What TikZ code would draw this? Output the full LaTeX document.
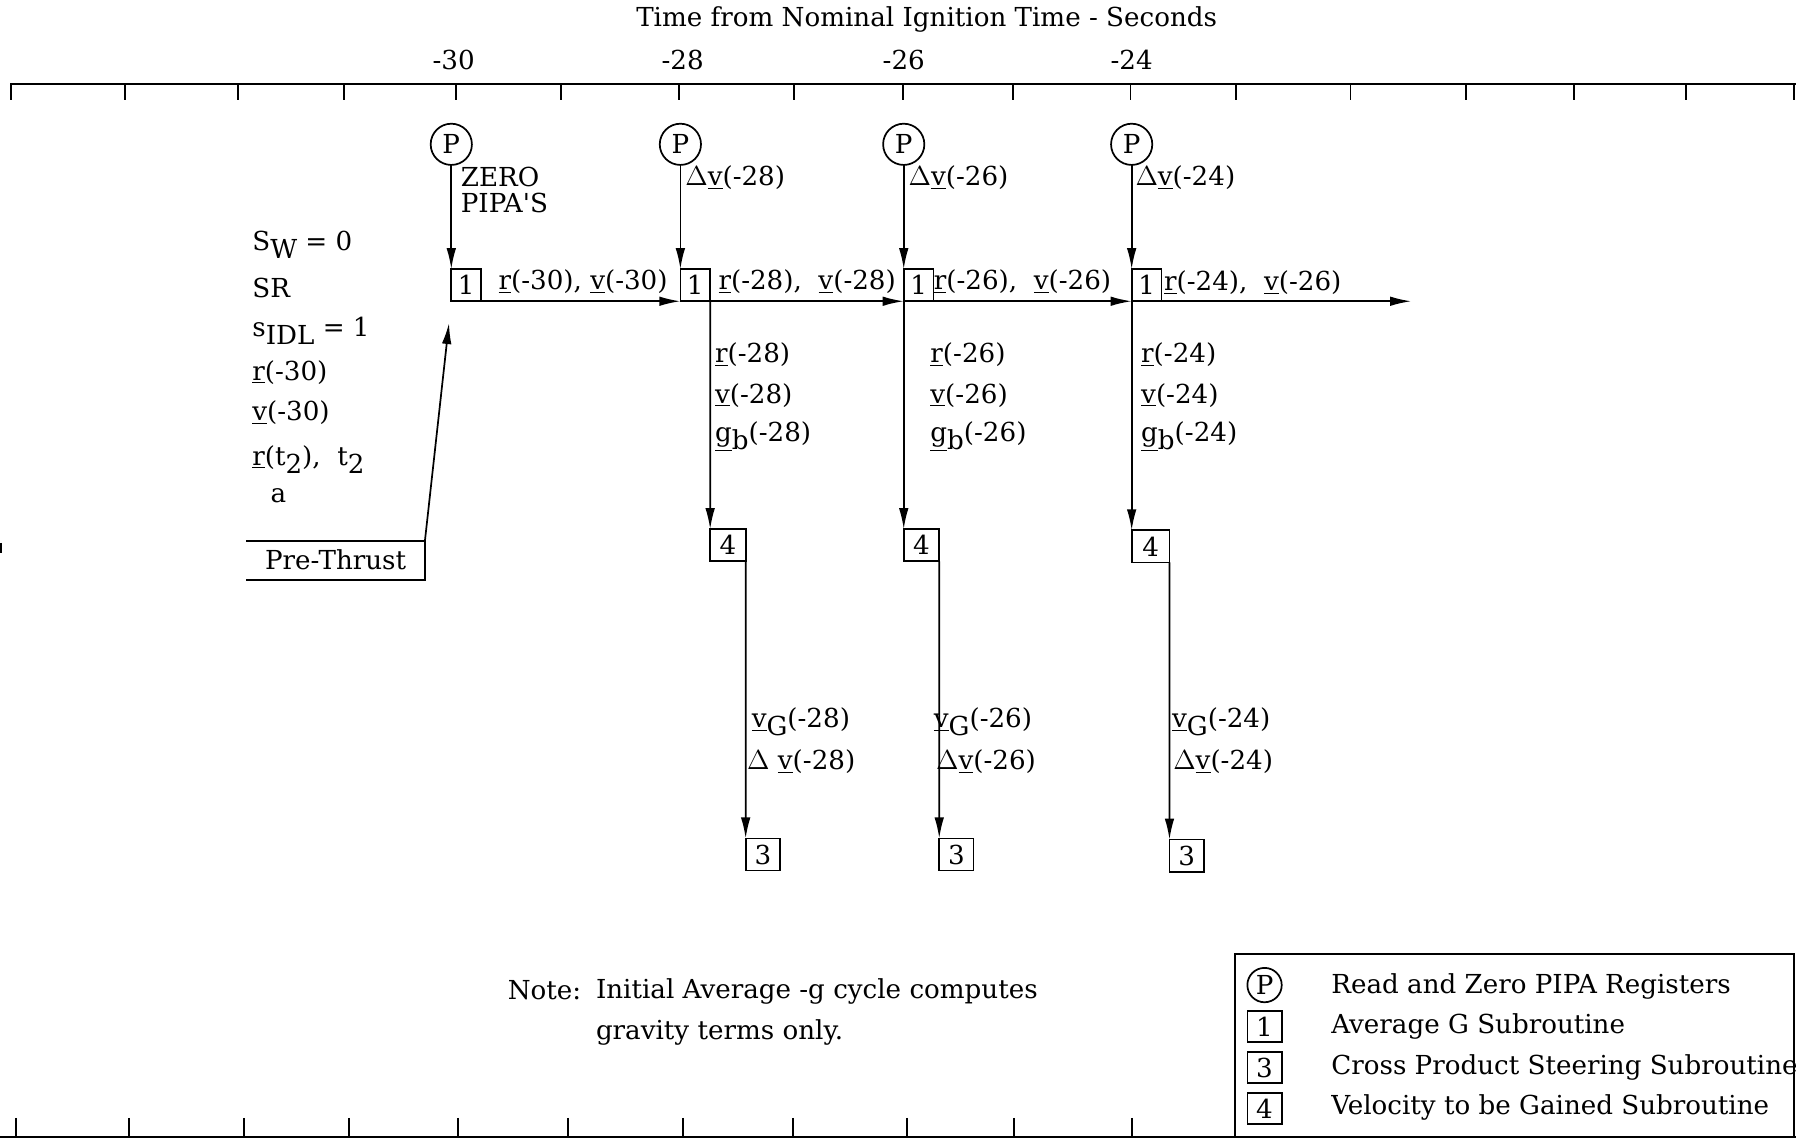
\documentclass[tikz,border=0pt]{standalone}
\usepackage{fontspec}
\setmainfont{DejaVu Serif}
\usepackage{tikz}
\usetikzlibrary{arrows.meta,positioning,calc}

\newcommand{\lo}[1]{\raisebox{-0.6ex}{#1}}
\newcommand{\vu}[1]{\underline{#1}}

\begin{document}
\begin{tikzpicture}[x=0.6pt,y=-0.6pt,
  every node/.style={font=\fontsize{13.7}{21.6}\selectfont},
  txt/.style={anchor=west,inner sep=0pt},
  pipa/.style={draw,circle,line width=0.9pt,minimum size=21.6pt,inner sep=0pt,outer sep=0pt},
  sub/.style={draw,rectangle,line width=0.9pt,minimum width=15.6pt,minimum height=16.8pt,inner sep=0pt,outer sep=0pt},
  flow/.style={line width=0.9pt,-{Latex[length=11pt,width=5pt]}},
  rule/.style={line width=1pt}]
  \useasboundingbox (0,0) rectangle (1568,994);
  \node (title) at (809,17) {Time from Nominal Ignition Time - Seconds}; % 時間軸の見出し
  \draw[rule] (10,87) -- (10,73) -- (1568,73); % 上側の時間軸
  \foreach \t in {109,208,300,398,490,593,693,788,884,987,1079,1179,1280,1374,1472,1566}
    \draw[rule] (\t,73) -- (\t,87); % 1秒ごとの目盛り
  \foreach \x/\s in {396/30,596/28,789/26,988/24}
    \node (lab\s) at (\x,52) {-\s}; % 目盛りの数値

  % 各時刻の P（PIPA読み出し）と 1（平均G）
  \node[pipa] (p30) at (394,126) {P};
  \node[pipa] (p28) at (594,126) {P};
  \node[pipa] (p26) at (789,126) {P};
  \node[pipa] (p24) at (988,126) {P};
  \node[sub,anchor=south west] (a30) at (394,263) {1};
  \node[sub,anchor=south west] (a28) at (594,263) {1};
  \node[sub,anchor=south west] (a26) at (789,263) {1};
  \node[sub,anchor=south west] (a24) at (988,263) {1};
  \coordinate (tend) at (1232,263);
  \draw[flow] (p30.south) -- (a30.north west);
  \draw[flow] (p28.south) -- (a28.north west);
  \draw[flow] (p26.south) -- (a26.north west);
  \draw[flow] (p24.south) -- (a24.north west);
  \draw[flow] (a30.south west) -- (a28.south west); % 時間方向の流れ
  \draw[flow] (a28.south west) -- (a26.south west);
  \draw[flow] (a26.south west) -- (a24.south west);
  \draw[flow] (a24.south west) -- (tend);
  \node[txt,align=left,font=\fontsize{13.7}{13.8}\selectfont] (zero) at (402,166) {ZERO\\PIPA\textquotesingle S};
  \node[txt] (dv28) at (598,155) {$\Delta$\vu{v}(-28)};
  \node[txt] (dv26) at (793,155) {$\Delta$\vu{v}(-26)};
  \node[txt] (dv24) at (991,155) {$\Delta$\vu{v}(-24)};
  \node[txt] (rv30) at (435,246) {\vu{r}(-30), \vu{v}(-30)};
  \node[txt] (rv28) at (627,246) {\vu{r}(-28),\ \ \vu{v}(-28)};
  \node[txt] (rv26) at (815,246) {\vu{r}(-26),\ \ \vu{v}(-26)};
  \node[txt] (rv24) at (1016,247) {\vu{r}(-24),\ \ \vu{v}(-26)};

  % 4（増速すべき速度）と 3（外積ステアリング）
  \node[sub,anchor=north west,minimum width=18.6pt] (g28) at (620,462) {4};
  \node[sub,anchor=north west,minimum width=18.6pt] (g26) at (789,462) {4};
  \node[sub,anchor=north west,minimum width=19.8pt] (g24) at (988,463) {4};
  \node[sub,anchor=north west,minimum width=18pt] (h28) at (651,732) {3};
  \node[sub,anchor=north west,minimum width=18pt] (h26) at (820,732) {3};
  \node[sub,anchor=north west,minimum width=18pt] (h24) at (1021,733) {3};
  \draw[flow] (a28.south east) -- (g28.north west);
  \draw[flow] (a26.south west) -- (g26.north west);
  \draw[flow] (a24.south west) -- (g24.north west);
  \draw[flow] (g28.south east) -- (h28.north west);
  \draw[flow] (g26.south east) -- (h26.north west);
  \draw[flow] (g24.south east) -- (h24.north west);
  \foreach \x/\s in {624/28,812/26,996/24} {
    \node[txt] (r\s) at (\x,310) {\vu{r}(-\s)};
    \node[txt] (v\s) at (\x,345) {\vu{v}(-\s)};
    \node[txt] (gb\s) at (\x,381) {\vu{g}\lo{b}(-\s)};
  }
  \node[txt] (vg28) at (656,630) {\vu{v}\lo{G}(-28)};
  \node[txt] (vg26) at (815,630) {\vu{v}\lo{G}(-26)};
  \node[txt] (vg24) at (1023,630) {\vu{v}\lo{G}(-24)};
  \node[txt] (dg28) at (652,665) {$\Delta$\ \vu{v}(-28)};
  \node[txt] (dg26) at (817,665) {$\Delta$\vu{v}(-26)};
  \node[txt] (dg24) at (1024,665) {$\Delta$\vu{v}(-24)};

  % 推力前の初期値
  \node[txt] (sw) at (220,214) {S\lo{W} = 0};
  \node[txt] (sr) at (220,251) {SR};
  \node[txt] (sidl) at (220,289) {s\lo{IDL} = 1};
  \node[txt] (r30) at (220,325) {\vu{r}(-30)};
  \node[txt] (v30) at (220,360) {\vu{v}(-30)};
  \node[txt] (rt2) at (220,401) {\vu{r}(t\lo{2}),\ \ t\lo{2}};
  \node[txt] (sa) at (236,433) {a};
  \node[minimum width=93.6pt,minimum height=20.4pt,inner sep=0pt,outer sep=0pt] (pre) at (293,489) {Pre-Thrust};
  \draw[rule] (pre.north west) -- (pre.north east) -- (pre.south east) -- (pre.south west);
  \coordinate (tip) at (392,282);
  \draw[flow] (pre.north east) -- (tip);

  % 注記と凡例
  \node[txt] (note) at (443,864) {Note:};
  \node[txt,align=left,anchor=north west] (notet) at (520,854) {Initial Average -g cycle computes\\gravity terms only.};
  \draw[rule] (1078,993) -- (1078,833) -- (1566,833) -- (1566,993);
  \node[pipa,minimum size=18pt] (kp) at (1104,860) {P};
  \node[sub,minimum width=18pt,minimum height=16.2pt] (k1) at (1104,896) {1};
  \node[sub,minimum width=18pt,minimum height=16.2pt] (k3) at (1104,932) {3};
  \node[sub,minimum width=18pt,minimum height=16.2pt] (k4) at (1104,968) {4};
  \node[txt] (kpt) at (1162,861) {Read and Zero PIPA Registers};
  \node[txt] (k1t) at (1162,896) {Average G Subroutine};
  \node[txt] (k3t) at (1162,932) {Cross Product Steering Subroutine};
  \node[txt] (k4t) at (1162,967) {Velocity to be Gained Subroutine};

  \draw[rule] (0,992.5) -- (1568,992.5); % 下側の時間軸
  \foreach \t in {14,113,213,305,400,496,596,692,792,885,988}
    \draw[rule] (\t,976) -- (\t,992.5);
  \draw[rule] (1,474) -- (1,483); % 左端の短い線
\end{tikzpicture}
\end{document}
